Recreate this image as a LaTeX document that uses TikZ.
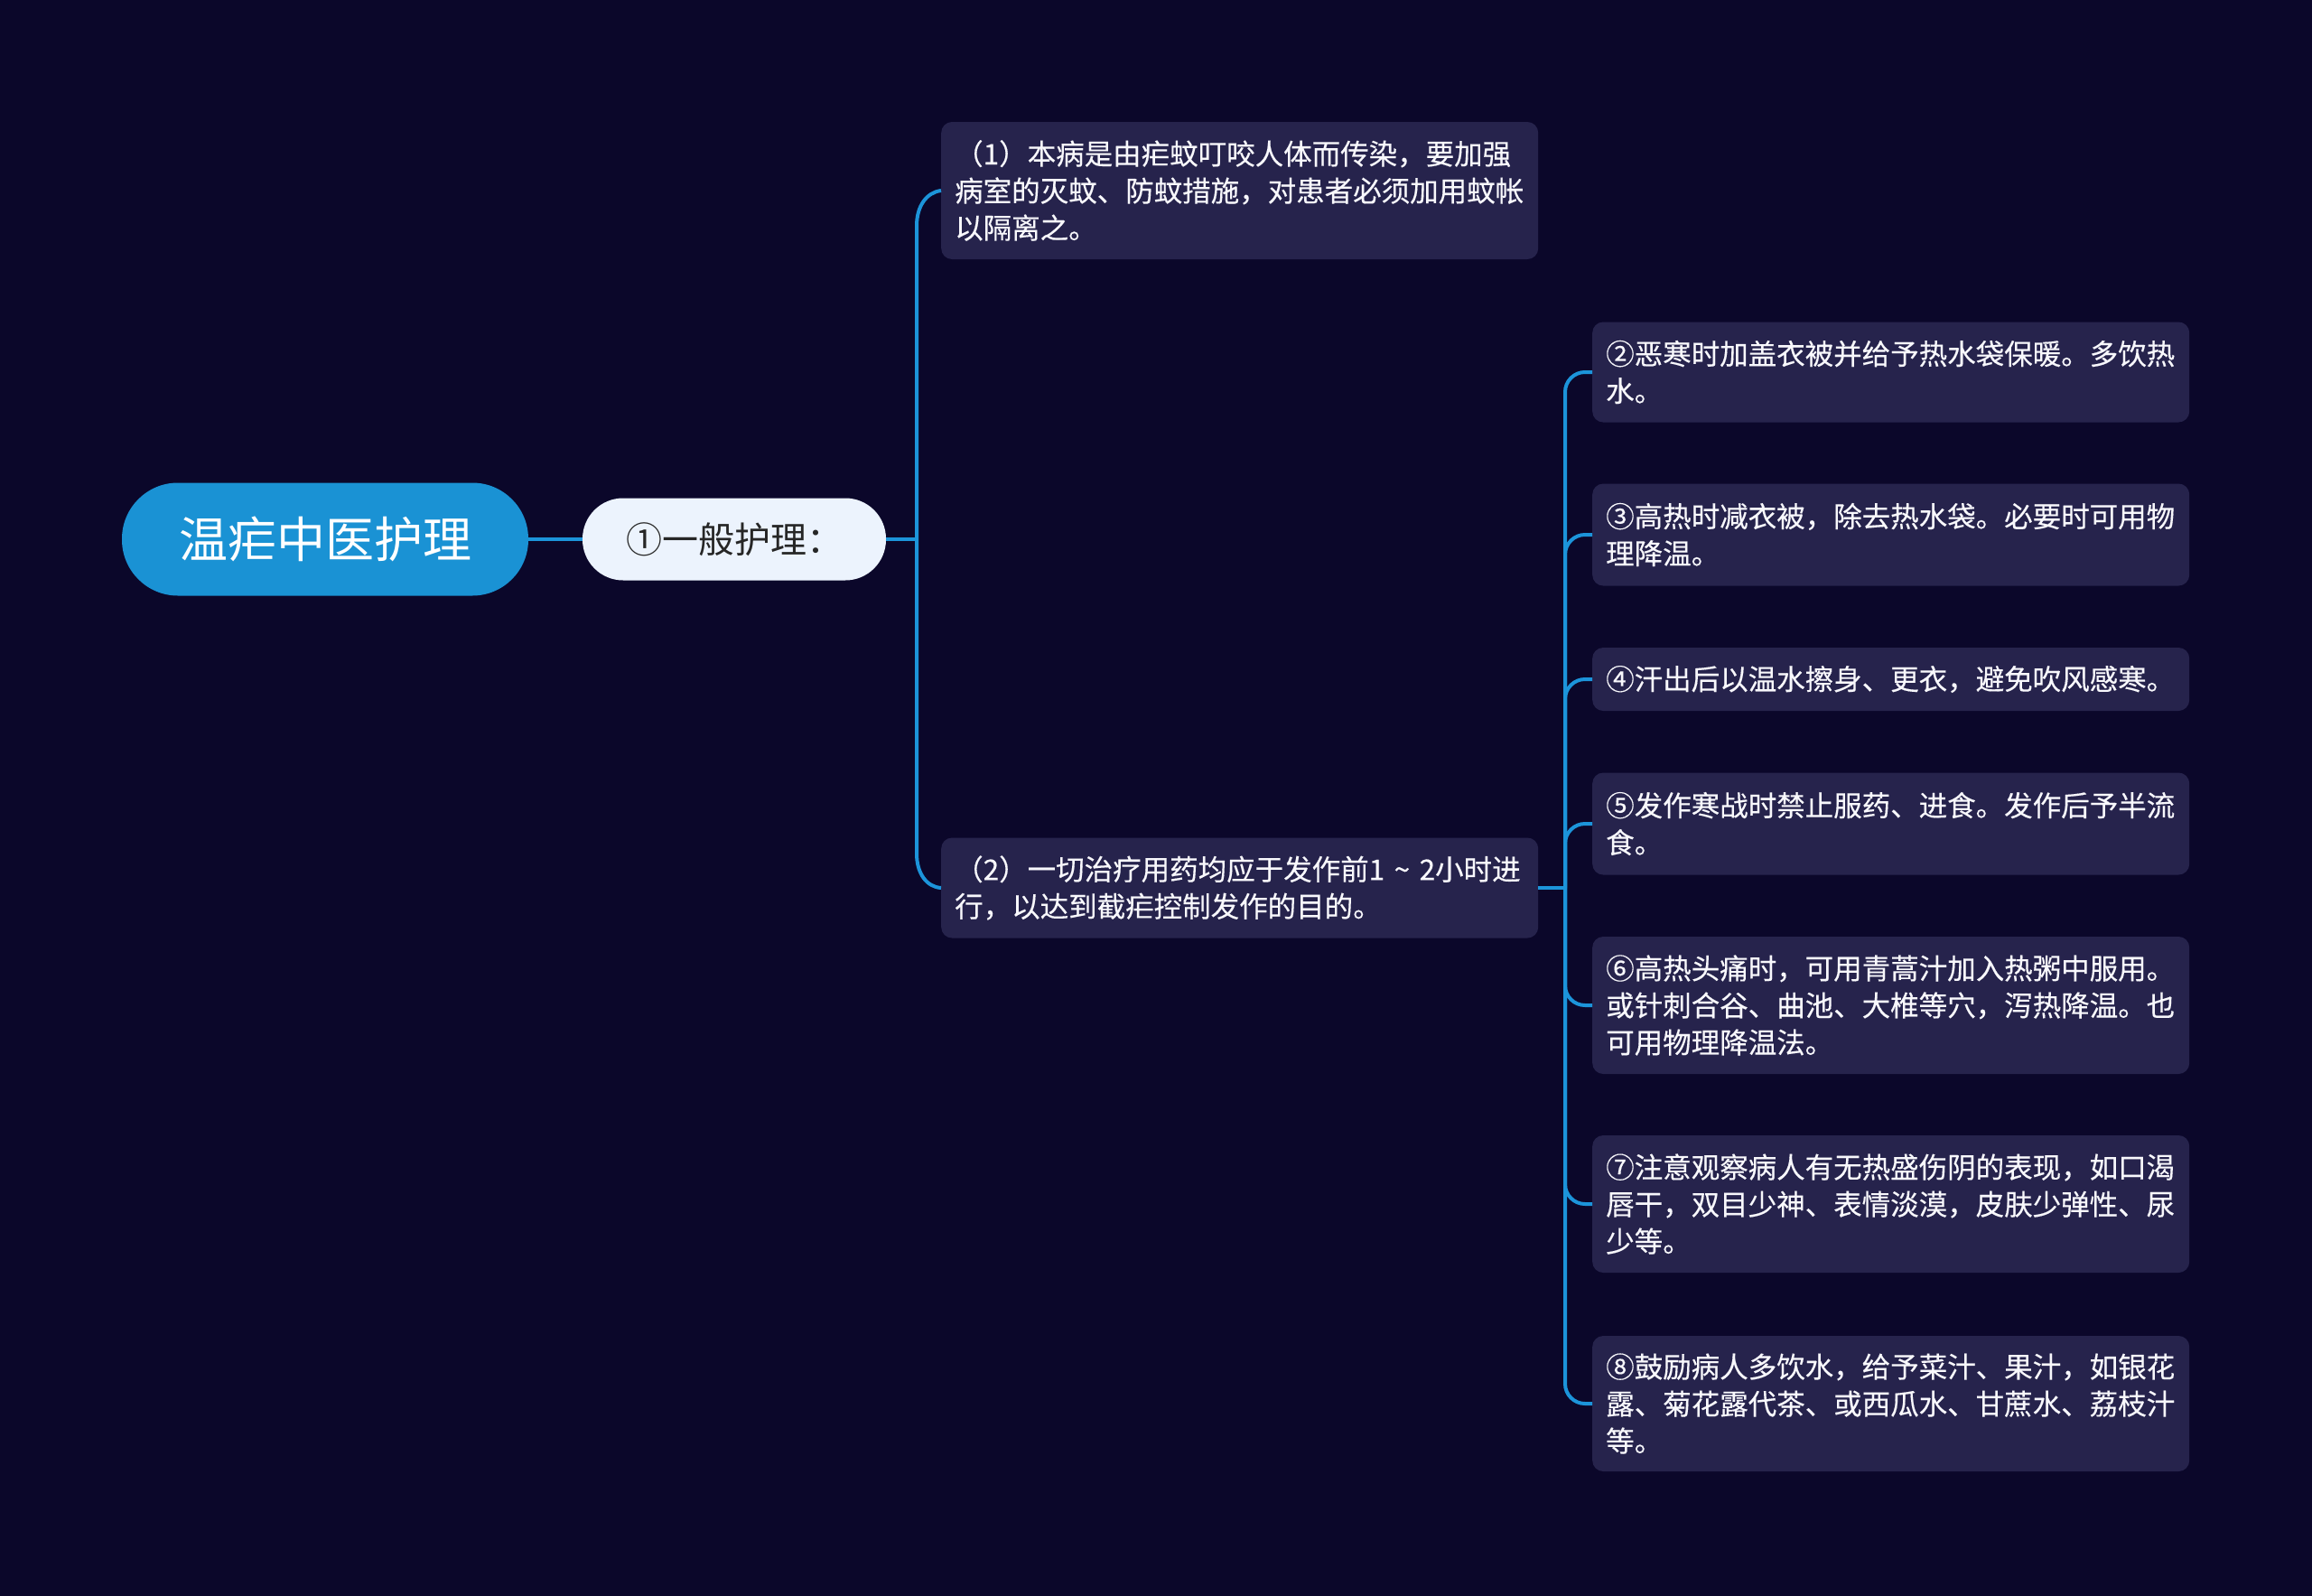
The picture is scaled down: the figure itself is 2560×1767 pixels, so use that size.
\documentclass[tikz,border=0pt]{standalone}
\usepackage{fontspec}
\setmainfont{Noto Sans CJK SC}
\newfontfamily\boxfont[FakeBold=0.3]{Noto Sans CJK SC}
\definecolor{bg}{RGB}{11,7,42}
\definecolor{boxfill}{RGB}{38,35,76}
\definecolor{rootfill}{RGB}{26,146,212}
\definecolor{linecol}{RGB}{28,148,218}
\definecolor{subfill}{RGB}{236,243,253}
\definecolor{txt}{RGB}{248,248,252}
\begin{document}
\begin{tikzpicture}[x=1pt,y=-1pt,
  conn/.style={draw=linecol, line width=4pt},
  textbox/.style={fill=boxfill, rounded corners=12pt, text=txt, align=left,
    inner xsep=15pt, inner ysep=0pt, text width=631pt, minimum width=661pt,
    font=\boxfont\fontsize{31.5pt}{41pt}\selectfont, anchor=west},
  rootbox/.style={fill=rootfill, rounded corners=62pt, text=white,
    minimum width=450pt, minimum height=125pt, inner sep=0pt,
    font=\fontsize{54pt}{60pt}\selectfont},
  subbox/.style={fill=subfill, rounded corners=45pt, text=black!85,
    minimum width=336pt, minimum height=91pt, inner sep=0pt,
    font=\fontsize{40pt}{46pt}\selectfont}
]
\fill[bg] (0,0) rectangle (2560,1767);
\useasboundingbox (0,0) rectangle (2560,1767);

\node[rootbox] (root) at (360,597) {温疟中医护理};
\node[subbox] (s1) at (813,597) {①一般护理：};

\node[textbox, minimum height=152pt] (b1) at (1042,211) {（1）本病是由疟蚊叮咬人体而传染，要加强\\病室的灭蚊、防蚊措施，对患者必须加用蚊帐\\以隔离之。};
\node[textbox, minimum height=111pt] (b2) at (1042,983) {（2）一切治疗用药均应于发作前1 \textasciitilde{} 2小时进\\行，以达到截疟控制发作的目的。};

\node[textbox, minimum height=111pt] (c2) at (1763,412) {②恶寒时加盖衣被并给予热水袋保暖。多饮热\\水。};
\node[textbox, minimum height=113pt] (c3) at (1763,592) {③高热时减衣被，除去热水袋。必要时可用物\\理降温。};
\node[textbox, minimum height=70pt] (c4) at (1763,752) {④汗出后以温水擦身、更衣，避免吹风感寒。};
\node[textbox, minimum height=113pt] (c5) at (1763,912) {⑤发作寒战时禁止服药、进食。发作后予半流\\食。};
\node[textbox, minimum height=152pt] (c6) at (1763,1113) {⑥高热头痛时，可用青蒿汁加入热粥中服用。\\或针刺合谷、曲池、大椎等穴，泻热降温。也\\可用物理降温法。};
\node[textbox, minimum height=152pt] (c7) at (1763,1333) {⑦注意观察病人有无热盛伤阴的表现，如口渴\\唇干，双目少神、表情淡漠，皮肤少弹性、尿\\少等。};
\node[textbox, minimum height=150pt] (c8) at (1763,1554) {⑧鼓励病人多饮水，给予菜汁、果汁，如银花\\露、菊花露代茶、或西瓜水、甘蔗水、荔枝汁\\等。};

\coordinate (jl) at (1015,597);
\coordinate (jr) at (1733,983);

\draw[conn] (root.east) -- (s1.west);
\draw[conn] (s1.east) -- (jl);
\draw[conn] (jl) -- (1015,250) .. controls (1015,228) and (1026,213) .. (b1.west);
\draw[conn] (jl) -- (1015,945) .. controls (1015,967) and (1026,982) .. (b2.west);
\draw[conn] (b2.east) -- (jr);
\foreach \c in {c2,c3,c4,c5,c6,c7,c8}{
  \draw[conn, rounded corners=22pt] (jr) |- (\c.west);
}
\end{tikzpicture}
\end{document}
